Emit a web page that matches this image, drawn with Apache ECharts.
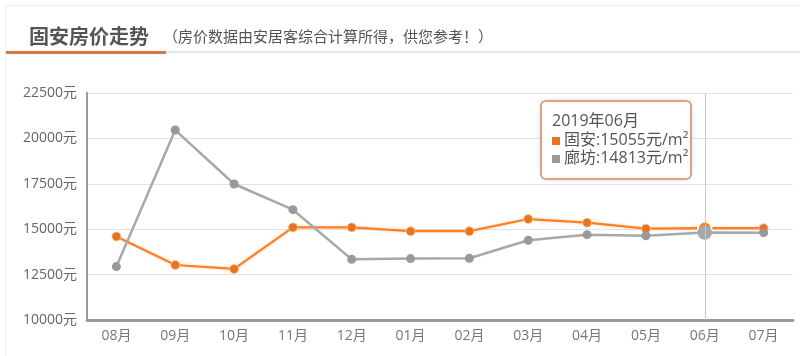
<!DOCTYPE html>
<html><head><meta charset="utf-8">
<script src="https://cdn.jsdelivr.net/npm/echarts@6/dist/echarts.min.js"></script>
<style>html,body{margin:0;padding:0;background:#fff}#c{width:800px;height:356px}</style>
</head><body><div id="c"></div>
<script>
var months = ['08月','09月','10月','11月','12月','01月','02月','03月','04月','05月','06月','07月'];
var tipTitles = ['2018年08月','2018年09月','2018年10月','2018年11月','2018年12月','2019年01月','2019年02月','2019年03月','2019年04月','2019年05月','2019年06月','2019年07月'];
var guan = [14600, 13030, 12810, 15100, 15100, 14890, 14890, 15560, 15360, 15030, 15055, 15055];
var langfang = [12940, 20460, 17490, 16075, 13340, 13380, 13400, 14390, 14700, 14640, 14813, 14810];
var names = ['固安', '廊坊'];
var colors = ['#e8741f', '#999999'];

var FONT = '"Open Sans","Noto Sans CJK SC",sans-serif';
var CJK = '"Noto Sans CJK SC",sans-serif';
var chart = echarts.init(document.getElementById('c'), null, {renderer: 'canvas'});
chart.setOption({
  animation: false,
  textStyle: {fontFamily: FONT},
  title: [
    {text: '固安房价走势', left: 24, top: 21, textStyle: {fontSize: 20, fontWeight: 'bold', color: '#555', fontFamily: CJK}},
    {text: '（房价数据由安居客综合计算所得，供您参考！）', left: 158, top: 24, textStyle: {fontSize: 15, fontWeight: 'normal', color: '#555', fontFamily: CJK}}
  ],
  graphic: [
    {type: 'rect', shape: {x: 5.5, y: 5.5, width: 820, height: 400}, style: {fill: 'none', stroke: '#eeeeee', lineWidth: 1}, silent: true, z: -1},
    {type: 'rect', shape: {x: 6, y: 51, width: 794, height: 2}, style: {fill: '#e6e6e6'}, silent: true},
    {type: 'rect', shape: {x: 6, y: 51, width: 160, height: 3}, style: {fill: '#d9773f'}, silent: true}
  ],
  grid: {left: 87, right: 7, top: 93, bottom: 36},
  tooltip: {
    trigger: 'axis',
    alwaysShowContent: true,
    position: [540, 100],
    backgroundColor: '#fff',
    borderColor: '#dba47f',
    borderWidth: 2,
    borderRadius: 6,
    padding: [9, 8, 12, 10],
    extraCssText: 'box-shadow:0 0 4px rgba(0,0,0,0.15);width:130px;',
    textStyle: {fontFamily: FONT, fontSize: 16, color: '#555'},
    axisPointer: {type: 'line', lineStyle: {color: '#c8c8c8', width: 1, type: 'solid'}},
    formatter: function (ps) {
      var st = 'font-family:\'Open Sans\',\'Noto Sans CJK SC\',sans-serif;font-size:16px;color:#555;white-space:nowrap;';
      var s = '<div style="line-height:19px;' + st + '">' + tipTitles[ps[0].dataIndex] + '</div>';
      ps.forEach(function (p) {
        s += '<div style="line-height:18px;' + st + '"><span style="display:inline-block;width:8px;height:8px;margin-right:4px;vertical-align:middle;background:' + colors[p.seriesIndex] + '"></span>' + p.seriesName + ':' + p.value + '元/m²</div>';
      });
      return s;
    }
  },
  xAxis: {
    type: 'category',
    data: months,
    boundaryGap: true,
    axisLine: {lineStyle: {color: '#999', width: 3}},
    axisTick: {show: false},
    axisLabel: {color: '#777', fontSize: 14, margin: 9, fontFamily: FONT}
  },
  yAxis: {
    type: 'value',
    min: 10000, max: 22500, interval: 2500,
    axisLine: {show: true, lineStyle: {color: '#999', width: 2}},
    axisTick: {show: false},
    axisLabel: {color: '#666', fontSize: 14, margin: 10, formatter: function (v) { return v + '元'; }, fontFamily: FONT},
    splitLine: {lineStyle: {color: '#e2e2e2', width: 1}}
  },
  series: [
    {name: names[0], type: 'line', data: guan, symbol: 'circle', symbolSize: 9, color: colors[0],
     lineStyle: {width: 2.2, color: colors[0], shadowColor: 'rgba(232,116,31,0.3)', shadowBlur: 3},
     itemStyle: {color: colors[0], borderColor: 'rgba(255,200,150,0.8)', borderWidth: 1},
     emphasis: {scale: 1.5, itemStyle: {borderColor: '#fff', borderWidth: 2}}, z: 3},
    {name: names[1], type: 'line', data: langfang, symbol: 'circle', symbolSize: 9, color: colors[1],
     lineStyle: {width: 2.5, color: colors[1]},
     itemStyle: {color: colors[1]},
     emphasis: {scale: 1.6}, z: 4}
  ]
});
chart.dispatchAction({type: 'showTip', seriesIndex: 0, dataIndex: 10});
</script>
</body></html>
